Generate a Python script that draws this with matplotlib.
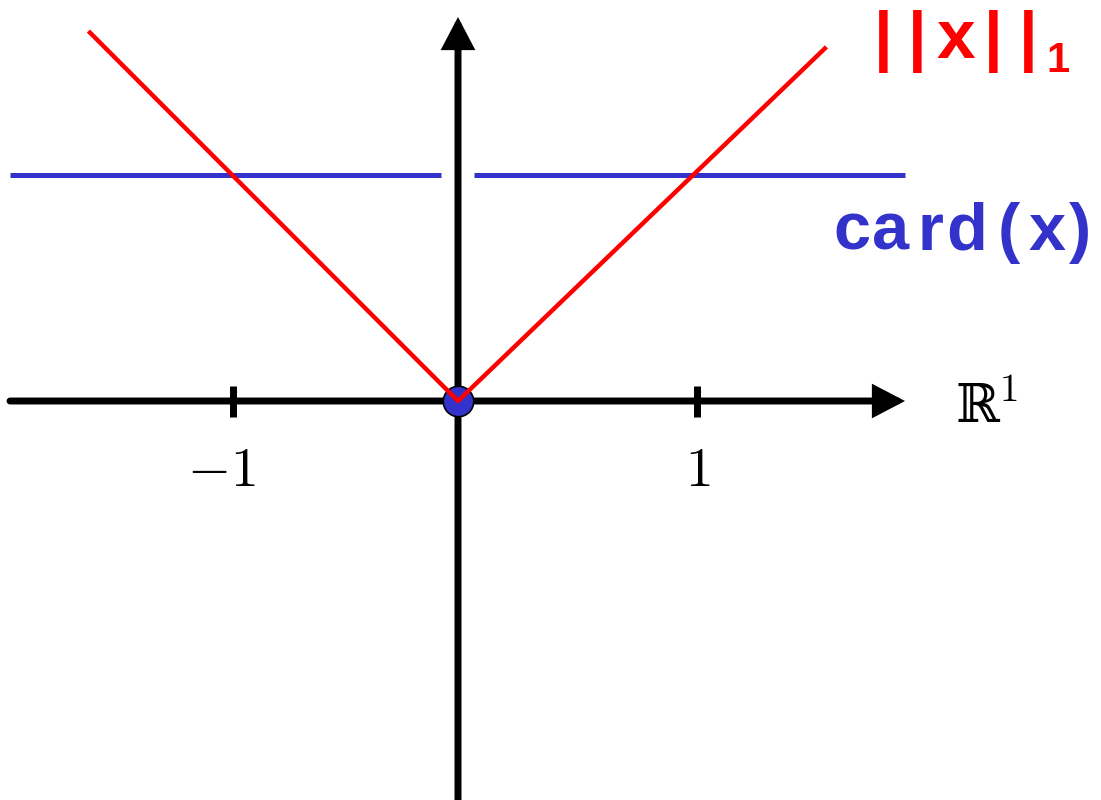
import numpy as np
import matplotlib
matplotlib.use("Agg")
from matplotlib import pyplot as plt

plt.rcParams["mathtext.fontset"] = "cm"

# data (in axis units)
l1_x = [-1.6, 0.0, 1.595]
l1_y = [1.63, 0.0, 1.56]
card_left_x = [-1.95, -0.072]
card_right_x = [0.07, 1.945]
card_y = 1.0
tick_x = [-0.98, 1.04]
tick_labels = [r"$-1$", r"$1$"]

# pixel scale of the original picture
ux, uy = 230.0, 226.0
ox, oy = 458.0, 401.0


def px(x, y):
    return (x - ox) / ux, (oy - y) / uy


fig = plt.figure(figsize=(11.01, 8), dpi=100)
ax = fig.add_axes([0, 0, 1, 1])
x0, y0 = px(0, 800)
x1, y1 = px(1101, 0)
ax.set_xlim(x0, x1)
ax.set_ylim(y0, y1)
ax.axis("off")

# axes with arrows
hx_start, _ = px(10, 0)
hx_end, _ = px(905, 0)
_, vy_end = px(0, 17)
arr = dict(arrowstyle="-|>,head_length=0.42,head_width=0.22", lw=5, color="black",
           mutation_scale=38, shrinkA=0, shrinkB=0, joinstyle="miter")
ax.annotate("", xy=(hx_end, 0), xytext=(hx_start, 0), arrowprops=arr, zorder=2)
ax.annotate("", xy=(0, vy_end), xytext=(0, y0 - 0.1), arrowprops=arr, zorder=2)

# ticks
tick_h = 16 / uy
for tx, lab in zip(tick_x, tick_labels):
    ax.plot([tx, tx], [-tick_h, tick_h * 0.95], color="black", lw=5, solid_capstyle="butt", zorder=2)
    lx = tx - 0.05 if tx < 0 else tx
    ax.text(lx, px(0, 486)[1], lab, fontsize=40, ha="center", va="baseline")

# card(x)
blue = "#3333cc"
ax.plot(card_left_x, [card_y, card_y], color=blue, lw=3.6, solid_capstyle="butt", zorder=3)
ax.plot(card_right_x, [card_y, card_y], color=blue, lw=3.6, solid_capstyle="butt", zorder=3)
ax.scatter([0], [0], s=480, color=blue, edgecolor="black", linewidth=1.2, zorder=4)

# l1 norm
ax.plot(l1_x, l1_y, color="red", lw=3.2, zorder=5)

# labels
bold = dict(family="Liberation Sans", fontweight="bold")
for bx in [883, 917, 993, 1028]:
    ax.text(*px(bx, 58), "|", color="red", fontsize=48, ha="center", va="baseline", **bold)
ax.text(*px(956, 58), "x", color="red", fontsize=50, ha="center", va="baseline", **bold)
ax.text(*px(1058, 72), "1", color="red", fontsize=30, ha="center", va="baseline", **bold)

card_chars = ["c", "a", "r", "d", "(", "x", ")"]
card_cx = [852, 891, 930, 967, 1009, 1047, 1080]
for ch, cx in zip(card_chars, card_cx):
    ax.text(*px(cx, 250), ch, color=blue, fontsize=48, ha="center", va="baseline", **bold)

ax.text(*px(977, 422), "\u211d", fontsize=38, ha="center", va="baseline",
        family=["DejaVu Serif", "DejaVu Sans"])
ax.text(*px(1008, 401), r"$1$", fontsize=28, ha="center", va="baseline")

fig.savefig("out.png", dpi=100)
